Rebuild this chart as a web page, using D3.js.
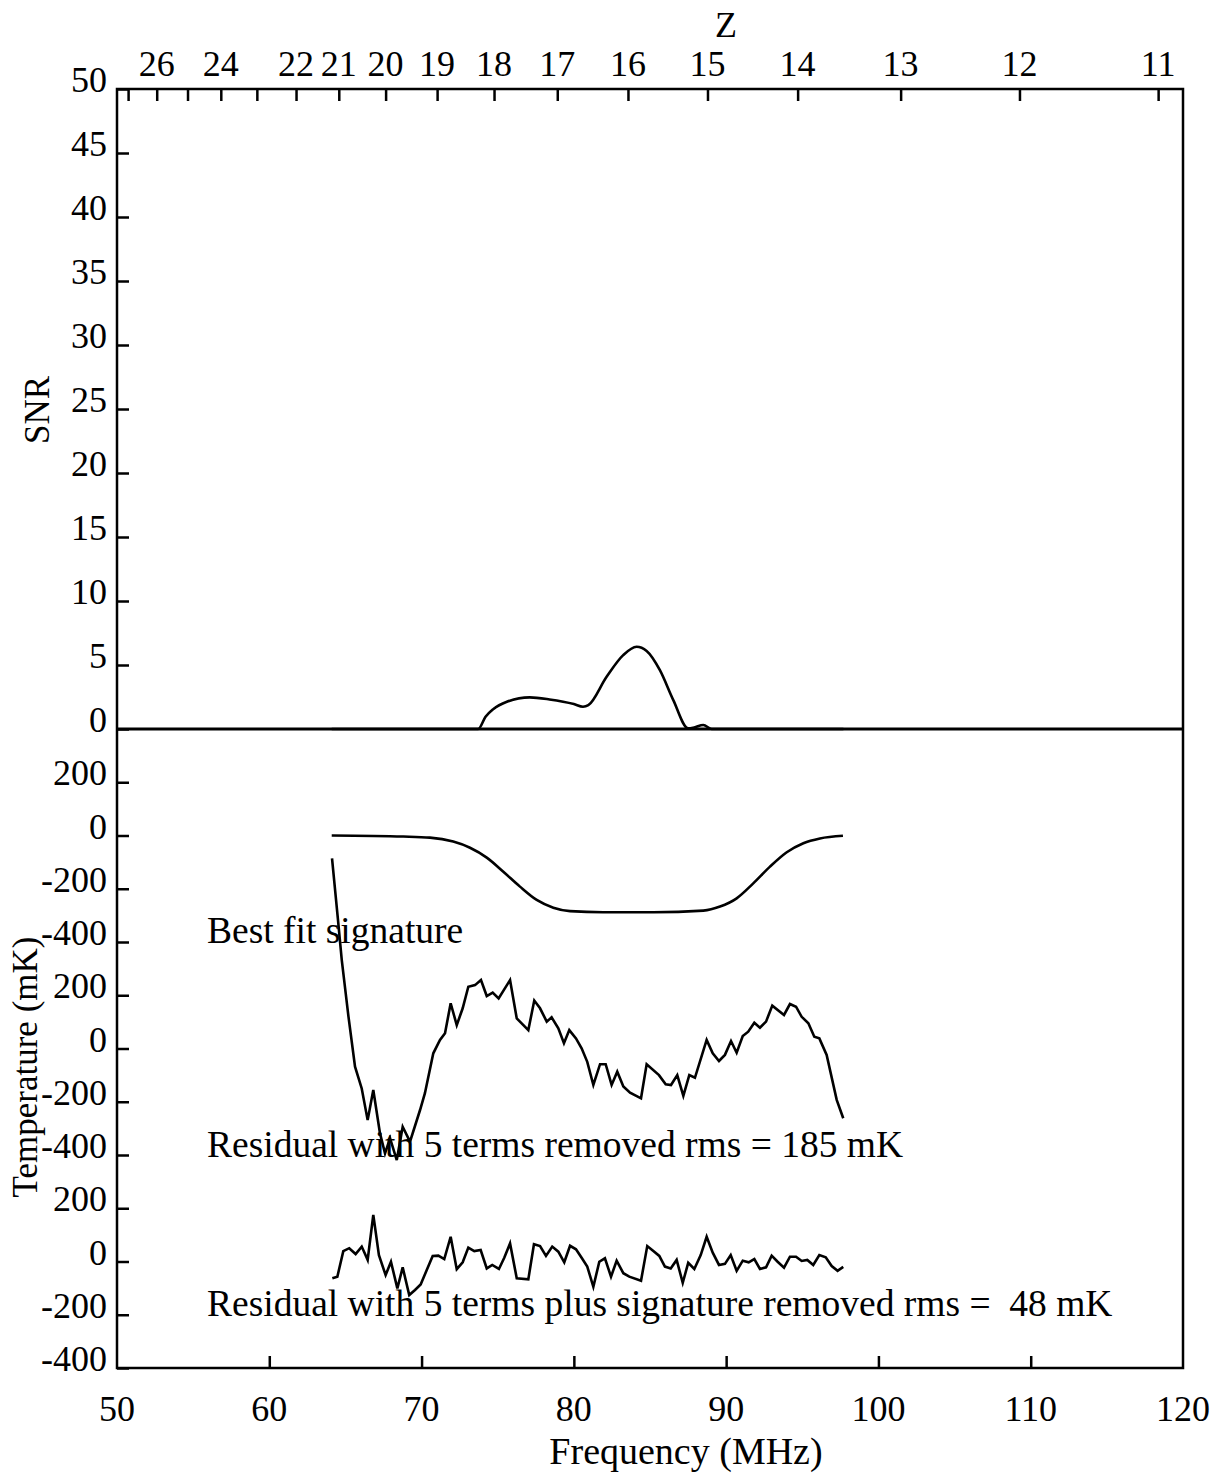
<!DOCTYPE html>
<html><head><meta charset="utf-8">
<script src="https://cdn.jsdelivr.net/npm/d3@7"></script>
<style>
body{margin:0;background:#fff}
svg text{font-family:"Liberation Serif","Times New Roman",serif;fill:#000;white-space:pre}
</style>
</head><body>
<svg id="c" width="1214" height="1473"></svg>
<script>
// ---------- data ----------
const freqTicks = [50,60,70,80,90,100,110,120];
const zTicks = [27,26,25,24,23,22,21,20,19,18,17,16,15,14,13,12,11];
const zLabels = [26,24,22,21,20,19,18,17,16,15,14,13,12,11];
const snrTicks = [0,5,10,15,20,25,30,35,40,45,50];
const tempTickLabels = [200,0,-200,-400];

const snrFreq = [64.1,73.72,74.2,74.7,75.6,77.1,78.4,80.0,80.6,80.95,82.15,83.24,84.12,84.78,85.65,86.53,87.51,87.9,88.5,89.05,97.7];
const snrVal  = [0,0,0.95,1.54,2.13,2.47,2.31,1.95,1.74,1.86,4.08,5.77,6.42,6.1,4.6,2.26,0.05,0.12,0.31,0,0];

const sigFreq = [64.10,68.80,70.55,72.08,73.18,74.28,75.37,76.46,77.56,78.65,79.75,81.93,85.22,88.50,89.60,90.69,91.78,92.88,93.98,95.07,96.16,97.67];
const sigVal  = [0,-4,-8,-23,-46,-83,-136,-192,-242,-271,-284,-288,-288,-282,-267,-236,-180,-117,-63,-29,-11,-1];

const res1Freq = [64.12,64.5,64.76,65.2,65.63,66.07,66.46,66.83,67.27,67.60,67.93,68.37,68.76,69.24,69.90,70.22,70.77,71.21,71.54,71.91,72.31,72.70,73.07,73.51,73.90,74.28,74.67,75.06,75.81,76.25,77.01,77.40,77.78,78.22,78.54,78.98,79.35,79.70,80.14,80.51,80.88,81.28,81.72,82.09,82.48,82.85,83.25,83.69,84.41,84.78,85.59,86.03,86.38,86.79,87.19,87.58,87.95,88.72,89.12,89.53,89.92,90.32,90.69,91.09,91.45,91.85,92.22,92.62,93.03,93.80,94.19,94.59,94.96,95.40,95.79,96.12,96.60,97.26,97.69];
const res1Val  = [714,490,332,120,-68,-150,-269,-156,-319,-394,-337,-419,-294,-350,-231,-168,-18,32,57,170,88,151,232,238,257,197,210,188,257,113,69,180,151,101,117,76,20,69,38,1,-50,-137,-59,-59,-137,-87,-143,-166,-187,-59,-100,-134,-137,-100,-178,-100,-110,32,-18,-47,-24,28,-16,47,63,97,78,101,161,126,167,157,119,95,44,38,-24,-193,-262];

const res2Freq = [64.14,64.47,64.86,65.25,65.67,66.07,66.46,66.83,67.20,67.64,67.99,68.41,68.76,69.19,69.57,69.94,70.34,70.73,71.10,71.49,71.91,72.31,72.70,73.07,73.46,73.88,74.28,74.64,75.08,75.43,75.81,76.25,77.01,77.38,77.78,78.17,78.58,78.98,79.37,79.75,80.14,80.51,80.88,81.28,81.67,82.04,82.44,82.81,83.25,83.64,84.41,84.82,85.22,85.61,85.98,86.36,86.75,87.15,87.51,87.91,88.33,88.72,89.12,89.53,89.92,90.30,90.69,91.09,91.48,91.85,92.22,92.62,92.99,93.38,93.80,94.19,94.59,94.96,95.33,95.72,96.12,96.54,96.93,97.32,97.69];
const res2Val  = [-63,-57,39,50,28,56,6,175,24,-51,-1,-101,-22,-126,-107,-86,-32,21,22,9,93,-29,-3,52,39,43,-26,-13,-28,14,68,-63,-67,65,58,21,56,37,-3,59,46,14,-19,-95,-1,12,-57,3,-44,-57,-72,58,39,21,-19,-26,6,-80,-5,-28,24,93,33,-13,-9,24,-35,3,-3,9,-28,-22,22,-1,-23,18,18,2,6,-13,24,16,-17,-35,-20];

const annotations = [
  "Best fit signature",
  "Residual with 5 terms removed rms = 185 mK",
  "Residual with 5 terms plus signature removed rms =  48 mK"
];

// ---------- layout ----------
const L = 117, R = 1183, T = 89, M = 729, B = 1368;
const FS = 36, FA = 37.5;
const svg = d3.select("#c");

const x = d3.scaleLinear().domain([50,120]).range([L,R]);
const ySNR = d3.scaleLinear().domain([0,50]).range([M,T]);
const yT = d3.scaleLinear().domain([-400,2000]).range([B,M]);
const blockOffsets = [1600,800,0];
const zToFreq = z => 1420.4/(1+z);

const axisW = 2.5;
// frame
svg.append("rect").attr("x",L).attr("y",T).attr("width",R-L).attr("height",B-T)
  .attr("fill","none").attr("stroke","#000").attr("stroke-width",axisW);
svg.append("line").attr("x1",L).attr("x2",R).attr("y1",M).attr("y2",M)
  .attr("stroke","#000").attr("stroke-width",3);

// bottom axis
const bx = d3.axisTop(x).tickValues(freqTicks).tickSize(12).tickFormat("");
const gb = svg.append("g").attr("transform",`translate(0,${B})`).call(bx);
gb.select(".domain").remove();
gb.selectAll(".tick line").attr("stroke-width",axisW).filter(d=>d===50||d===120).remove();
svg.append("g").selectAll("text").data(freqTicks).join("text")
  .attr("x",d=>x(d)).attr("y",1421).attr("text-anchor","middle").attr("font-size",FS).text(d=>d);
svg.append("text").attr("x",686).attr("y",1464).attr("text-anchor","middle")
  .attr("font-size",38).text("Frequency (MHz)");

// top Z axis
const gt = svg.append("g").attr("transform",`translate(0,${T})`)
  .call(d3.axisBottom(x).tickValues(zTicks.map(zToFreq)).tickSize(12).tickFormat(""));
gt.select(".domain").remove();
gt.selectAll(".tick line").attr("stroke-width",axisW);
svg.append("g").selectAll("text").data(zLabels).join("text")
  .attr("x",d=>x(zToFreq(d))).attr("y",76).attr("text-anchor","middle").attr("font-size",FS).text(d=>d);
svg.append("text").attr("x",726).attr("y",37).attr("text-anchor","middle").attr("font-size",FS).text("Z");

// left SNR axis
const gl = svg.append("g").attr("transform",`translate(${L},0)`)
  .call(d3.axisRight(ySNR).tickValues(snrTicks).tickSize(12).tickFormat(""));
gl.select(".domain").remove();
gl.selectAll(".tick line").attr("stroke-width",axisW);
svg.append("g").selectAll("text").data(snrTicks).join("text")
  .attr("x",107).attr("y",d=>ySNR(d)+3).attr("text-anchor","end").attr("font-size",FS).text(d=>d);
svg.append("text").attr("transform","translate(49,410) rotate(-90)")
  .attr("text-anchor","middle").attr("font-size",35).text("SNR");

// left temperature axes (three stacked blocks)
const tTicks = [];
blockOffsets.forEach(o => tempTickLabels.forEach(v => tTicks.push({v, pos:v+o})));
const glt = svg.append("g").attr("transform",`translate(${L},0)`)
  .call(d3.axisRight(yT).tickValues(tTicks.map(d=>d.pos)).tickSize(12).tickFormat(""));
glt.select(".domain").remove();
glt.selectAll(".tick line").attr("stroke-width",axisW);
svg.append("g").selectAll("text").data(tTicks).join("text")
  .attr("x",107).attr("y",d=>yT(d.pos)+3).attr("text-anchor","end").attr("font-size",FS).text(d=>d.v);
svg.append("text").attr("transform","translate(37,1067) rotate(-90)")
  .attr("text-anchor","middle").attr("font-size",35).text("Temperature (mK)");

// ---------- series ----------
const lw = 2.6;
const snrLine = d3.line().x(d=>x(d[0])).y(d=>ySNR(d[1])).curve(d3.curveMonotoneX);
svg.append("path").datum(d3.zip(snrFreq,snrVal)).attr("d",snrLine)
  .attr("fill","none").attr("stroke","#000").attr("stroke-width",lw);

const mk = (off, curve) => d3.line().x(d=>x(d[0])).y(d=>yT(d[1]+off)).curve(curve);
svg.append("path").datum(d3.zip(sigFreq,sigVal)).attr("d",mk(blockOffsets[0],d3.curveMonotoneX))
  .attr("fill","none").attr("stroke","#000").attr("stroke-width",lw);
svg.append("path").datum(d3.zip(res1Freq,res1Val)).attr("d",mk(blockOffsets[1],d3.curveLinear))
  .attr("fill","none").attr("stroke","#000").attr("stroke-width",lw).attr("stroke-linejoin","miter");
svg.append("path").datum(d3.zip(res2Freq,res2Val)).attr("d",mk(blockOffsets[2],d3.curveLinear))
  .attr("fill","none").attr("stroke","#000").attr("stroke-width",lw).attr("stroke-linejoin","miter");

// annotations
const annY = [943,1157,1316];
svg.append("g").selectAll("text").data(annotations).join("text")
  .attr("x",207).attr("y",(d,i)=>annY[i]).attr("font-size",FA).text(d=>d);
</script>
</body></html>
